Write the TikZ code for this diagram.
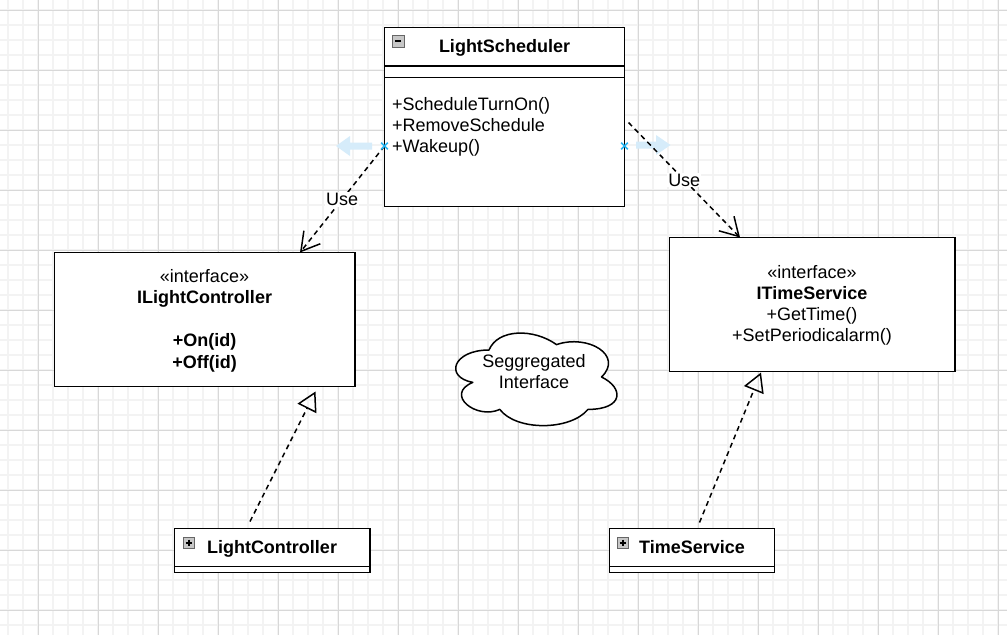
\documentclass[tikz,border=0pt]{standalone}
\usepackage{fontspec}
\setmainfont{Liberation Sans}
\usetikzlibrary{arrows.meta,calc}
\definecolor{gridminor}{RGB}{243,243,243}
\definecolor{gridmajor}{RGB}{216,216,216}
\definecolor{hoverblue}{RGB}{214,236,250}
\definecolor{pointblue}{RGB}{41,182,242}
\begin{document}
\begin{tikzpicture}[x=1pt,y=-1pt,
  font=\fontsize{18}{21}\selectfont,
  box/.style={draw=black, line width=1.5pt, fill=white, inner sep=0pt, outer sep=0pt, rectangle},
  sep/.style={draw=black, line width=1.5pt},
  dep/.style={draw=black, line width=1.5pt, dash pattern=on 5pt off 4pt, -{Straight Barb[length=18pt,width=21pt]}},
  gen/.style={draw=black, line width=1.5pt, dash pattern=on 5pt off 4pt, -{Triangle[open,length=19pt,width=21pt]}},
  lbl/.style={fill=white, inner sep=1pt, text=black},
  txt/.style={inner sep=0pt, text=black, anchor=base},
  mtxt/.style={inner sep=0pt, text=black, anchor=base west},
  btxt/.style={inner sep=0pt, text=black, anchor=base, font=\fontsize{18}{21}\selectfont\bfseries},
  icon/.style={draw=black!60, fill=black!22, line width=1pt},
  glyph/.style={draw=black, line width=1.5pt},
  ]
\useasboundingbox (0,0) rectangle (1007,635);
\fill[white] (0,0) rectangle (1007,635);
% grid
\foreach \i in {0,...,66} \draw[gridminor, line width=1.2pt] ({8+15*\i},0) -- ({8+15*\i},635);
\foreach \j in {0,...,41} \draw[gridminor, line width=1.2pt] (0,{10+15*\j}) -- (1007,{10+15*\j});
\foreach \i in {0,...,16} \draw[gridmajor, line width=1pt] ({38+60*\i},0) -- ({38+60*\i},635);
\foreach \j in {0,...,10} \draw[gridmajor, line width=1pt] (0,{10+60*\j}) -- (1007,{10+60*\j});
% hover arrows
\fill[hoverblue] (372,142.5) -- (350,142.5) -- (350,136) -- (336,146) -- (350,156) -- (350,149.5) -- (372,149.5) -- cycle;
\fill[hoverblue] (636,141.5) -- (656,141.5) -- (656,135) -- (670.5,145) -- (656,155) -- (656,148.5) -- (636,148.5) -- cycle;
% LightScheduler
\node[box, minimum width=240pt, minimum height=179pt] (ls) at (504.5,117) {};
\draw[sep] ($(ls.north west)+(0,38.5)$) -- ($(ls.north east)+(0,38.5)$);
\draw[sep] ($(ls.north west)+(0,50)$) -- ($(ls.north east)+(0,50)$);
\draw[icon] (392,35) rectangle (404,47);
\draw[glyph] (395,41) -- (401,41);
\node[btxt] (lst) at (504.5,52.3) {LightScheduler};
\node[mtxt] (m1) at (392,110.5) {+ScheduleTurnOn()};
\node[mtxt] (m2) at (392,131.5) {+RemoveSchedule};
\node[mtxt] (m3) at (392,152.5) {+Wakeup()};
% ILightController
\node[box, minimum width=300.5pt, minimum height=134pt] (ilc) at (204.75,319.5) {};
\node[txt] (ilc1) at (204.5,282) {«interface»};
\node[btxt] (ilc2) at (204.5,303.5) {ILightController};
\node[btxt] (ilc3) at (204.5,346.5) {+On(id)};
\node[btxt] (ilc4) at (204.5,368) {+Off(id)};
% ITimeService
\node[box, minimum width=285.5pt, minimum height=134pt] (its) at (812.25,304.5) {};
\node[txt] (its1) at (812,278.5) {«interface»};
\node[btxt] (its2) at (812,299.5) {ITimeService};
\node[txt] (its3) at (812,320.5) {+GetTime()};
\node[txt] (its4) at (812,341.5) {+SetPeriodicalarm()};
% cloud
\draw[line width=1.5pt, fill=white, line join=round] (489,350) .. controls (453,350) and (444,377) .. (472.8,382.4)
 .. controls (444,394.3) and (476.4,420.2) .. (499.8,409.4)
 .. controls (516,431) and (570,431) .. (588,409.4)
 .. controls (624,409.4) and (624,387.8) .. (601.5,377)
 .. controls (624,355.4) and (588,333.8) .. (556.5,344.6)
 .. controls (534,328.4) and (498,328.4) .. (489,350) -- cycle;
\node[txt] (cl1) at (534,367) {Seggregated};
\node[txt] (cl2) at (534,388) {Interface};
% LightController
\node[box, minimum width=195.5pt, minimum height=44pt] (lc) at (272.25,550.5) {};
\draw[sep] ($(lc.south west)+(0,-6)$) -- ($(lc.south east)+(0,-6)$);
\draw[icon] (183,537) rectangle (194.5,548.5);
\draw[glyph] (185.5,542.75) -- (192,542.75) (188.75,539.5) -- (188.75,546);
\node[btxt] (lct) at (272,553.3) {LightController};
% TimeService
\node[box, minimum width=165pt, minimum height=44pt] (ts) at (692,550.5) {};
\draw[sep] ($(ts.south west)+(0,-6)$) -- ($(ts.south east)+(0,-6)$);
\draw[icon] (617,537) rectangle (628.5,548.5);
\draw[glyph] (619.5,542.75) -- (626,542.75) (622.75,539.5) -- (622.75,546);
\node[btxt] (tst) at (692,553.3) {TimeService};
% connectors
\coordinate (u1s) at ($(ls.north west)+(0,118.5)$);
\coordinate (u1e) at ($(ilc.north west)+(245.5,0)$);
\draw[dep] (u1s) -- node[lbl] (use1) {Use} (u1e);
\coordinate (u2s) at ($(ls.north east)+(4,95)$);
\coordinate (u2e) at ($(its.north west)+(70.5,0)$);
\draw[dep] (u2s) -- node[lbl] (use2) {Use} (u2e);
\coordinate (g1s) at ($(lc.north west)+(75.5,-7)$);
\coordinate (g1e) at ($(ilc.south west)+(261,5)$);
\draw[gen] (g1s) -- (g1e);
\coordinate (g2s) at ($(ts.north west)+(90,-6)$);
\coordinate (g2e) at ($(its.south west)+(91.5,1)$);
\draw[gen] (g2s) -- (g2e);
% connection points
\draw[pointblue, line width=1.5pt] (381.2,142.7) -- (387.8,149.3) (381.2,149.3) -- (387.8,142.7);
\draw[pointblue, line width=1.5pt] (621.2,142.7) -- (627.8,149.3) (621.2,149.3) -- (627.8,142.7);
\end{tikzpicture}
\end{document}
